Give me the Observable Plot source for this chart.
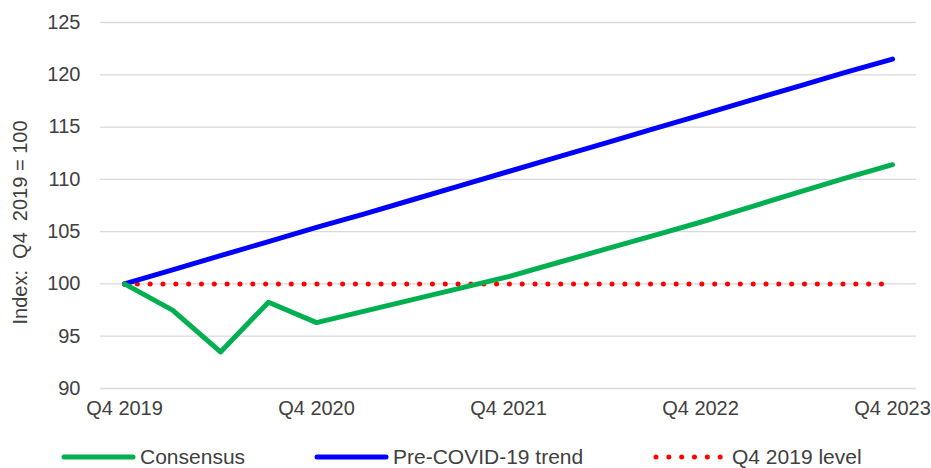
<!DOCTYPE html>
<html>
<head>
<meta charset="utf-8">
<script src="https://cdn.jsdelivr.net/npm/d3@7"></script>
<script src="https://cdn.jsdelivr.net/npm/@observablehq/plot@0.6"></script>
<style>
  body { margin: 0; background: #fff; font-family: "Liberation Sans", Arial, sans-serif; }
  #wrap { width: 931px; }
  #legend { position: relative; width: 931px; height: 38px; font-size: 21px; color: #404040; }
  #legend .item { position: absolute; top: 8px; height: 38px; display: flex; align-items: center; }
  #legend svg { display: block; }
</style>
</head>
<body>
<div id="wrap">
  <div id="chart"></div>
  <div id="legend"></div>
</div>
<script>
const quarters = ["Q4 2019","Q1 2020","Q2 2020","Q3 2020","Q4 2020","Q1 2021","Q2 2021","Q3 2021","Q4 2021","Q1 2022","Q2 2022","Q3 2022","Q4 2022","Q1 2023","Q2 2023","Q3 2023","Q4 2023"];
const consensus = [100, 97.5, 93.5, 98.25, 96.3, 97.4, 98.5, 99.6, 100.7, 102.0, 103.3, 104.6, 105.9, 107.3, 108.7, 110.1, 111.4];
const preCovidTrend = [100, 101.35, 102.7, 104.05, 105.4, 106.7, 108.05, 109.4, 110.75, 112.1, 113.45, 114.8, 116.15, 117.5, 118.85, 120.2, 121.5];
const q4Level = [100, 100, 100, 100, 100, 100, 100, 100, 100, 100, 100, 100, 100, 100, 100, 100, 100];
const xTickLabels = ["Q4 2019","Q4 2020","Q4 2021","Q4 2022","Q4 2023"];
const yTicks = [90, 95, 100, 105, 110, 115, 120, 125];
const seriesNames = ["Consensus", "Pre-COVID-19 trend", "Q4 2019 level"];
const yLabel = "Index:  Q4  2019 = 100";

const toRows = vals => quarters.map((q, i) => ({q, v: vals[i]}));

const chart = Plot.plot({
  width: 931,
  height: 430,
  marginLeft: 100,
  marginRight: 15,
  marginTop: 22,
  marginBottom: 42,
  style: {fontFamily: "'Liberation Sans', Arial, sans-serif", fontSize: "20px", color: "#404040", background: "#fff"},
  x: {type: "point", domain: quarters, padding: 0.5, align: 0.5},
  y: {domain: [90, 125]},
  marks: [
    Plot.gridY(yTicks, {stroke: "#d9d9d9", strokeOpacity: 1, strokeWidth: 1.3}),
    Plot.axisY(yTicks, {tickSize: 0, tickPadding: 20, label: null}),
    Plot.axisX(xTickLabels, {tickSize: 0, tickPadding: 12, label: null}),
    Plot.text([yLabel], {frameAnchor: "left", textAnchor: "middle", rotate: -90, dx: -80, dy: 17, fontSize: 20, fill: "#404040"}),
    Plot.line(toRows(q4Level), {x: "q", y: "v", stroke: "#ff0000", strokeWidth: 5, strokeLinecap: "round", strokeDasharray: "0 12.83"}),
    Plot.line(toRows(preCovidTrend), {x: "q", y: "v", stroke: "#0000ff", strokeWidth: 5, strokeLinecap: "round", strokeLinejoin: "round"}),
    Plot.line(toRows(consensus), {x: "q", y: "v", stroke: "#00b050", strokeWidth: 5, strokeLinecap: "round", strokeLinejoin: "round"})
  ]
});
document.getElementById("chart").appendChild(chart);

// legend
const legend = document.getElementById("legend");
const legendSpec = [
  {name: seriesNames[0], color: "#00b050", dash: null, left: 60},
  {name: seriesNames[1], color: "#0000ff", dash: null, left: 313},
  {name: seriesNames[2], color: "#ff0000", dash: "0 12.83", left: 652}
];
legendSpec.forEach(s => {
  const item = document.createElement("div");
  item.className = "item";
  item.style.left = s.left + "px";
  const svg = d3.create("svg").attr("width", 78).attr("height", 12);
  svg.append("line").attr("x1", 4).attr("x2", 73).attr("y1", 6).attr("y2", 6)
    .attr("stroke", s.color).attr("stroke-width", 5).attr("stroke-linecap", "round")
    .attr("stroke-dasharray", s.dash);
  item.appendChild(svg.node());
  const label = document.createElement("span");
  label.textContent = s.name;
  label.style.marginLeft = "2px";
  item.appendChild(label);
  legend.appendChild(item);
});
</script>
</body>
</html>
